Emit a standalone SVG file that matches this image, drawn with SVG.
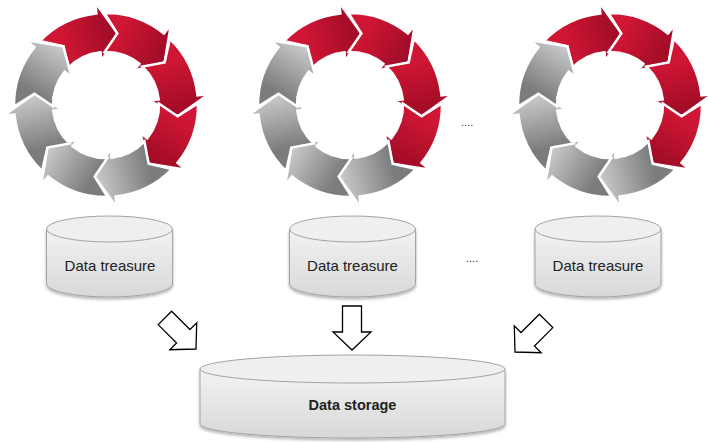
<svg xmlns="http://www.w3.org/2000/svg" xmlns:xlink="http://www.w3.org/1999/xlink" width="708" height="442" viewBox="0 0 708 442">
<style>
.arr{stroke:#ffffff;stroke-width:2.5;stroke-linejoin:miter}
.red{fill:url(#gRed)}
.gray{fill:url(#gGray)}
.cylb{fill:url(#gCyl);stroke:#a3a3a3;stroke-width:1}
.cylt{fill:#efefef;stroke:#a3a3a3;stroke-width:1}
.lbl{font-family:"Liberation Sans",Arial,sans-serif;font-size:15px;fill:#222;text-anchor:middle}
.bold{font-weight:bold;font-size:14.5px}
.dots{font-family:"Liberation Sans",Arial,sans-serif;font-size:11px;fill:#333}
.hollow{fill:#ffffff;stroke:#000;stroke-width:1.3;stroke-linejoin:miter}
</style>
<defs>
<linearGradient id="gRed" gradientUnits="userSpaceOnUse" x1="51" y1="-51" x2="72" y2="0">
<stop offset="0" stop-color="#cf1634"/><stop offset="1" stop-color="#9c0b25"/>
</linearGradient>
<linearGradient id="gGray" gradientUnits="userSpaceOnUse" x1="51" y1="-51" x2="72" y2="0">
<stop offset="0" stop-color="#7b7c7e"/><stop offset="1" stop-color="#cacbcc"/>
</linearGradient>
<linearGradient id="gCyl" x1="0" y1="0" x2="0" y2="1">
<stop offset="0" stop-color="#f3f3f3"/><stop offset="1" stop-color="#d8d8d8"/>
</linearGradient>
<filter id="sh" x="-10%" y="-10%" width="120%" height="130%">
<feDropShadow dx="0" dy="2" stdDeviation="1.5" flood-color="#000" flood-opacity="0.3"/>
</filter>
<path id="seg" d="M52.77,-75.36 A92,92 0 0 1 88.87,-23.81 L99.49,-26.66 L72.5,0 L42.50,-11.39 L51.19,-13.72 A53,53 0 0 0 30.02,-43.68 L51.26,-51.26 Z"/>
<g id="cycle">
<use href="#seg" class="arr red" transform="rotate(-81)"/>
<use href="#seg" class="arr red" transform="rotate(-36)"/>
<use href="#seg" class="arr red" transform="rotate(9)"/>
<use href="#seg" class="arr red" transform="rotate(54)"/>
<use href="#seg" class="arr gray" transform="rotate(99)"/>
<use href="#seg" class="arr gray" transform="rotate(144)"/>
<use href="#seg" class="arr gray" transform="rotate(189)"/>
<use href="#seg" class="arr gray" transform="rotate(234)"/>
</g>
<g id="treasure">
<g filter="url(#sh)">
<path class="cylb" d="M-63,0 L-63,55 A63,13 0 0 0 63,55 L63,0 Z"/>
</g>
<ellipse class="cylt" cx="0" cy="0" rx="63" ry="13"/>
</g>
<path id="harrow" d="M-9.5,-44 L9.5,-44 L9.5,-18 L19,-18 L0,0 L-19,-18 L-9.5,-18 Z"/>
</defs>

<g id="cycle1"><use href="#cycle" transform="translate(106,105)"/></g>
<g id="cycle2"><use href="#cycle" transform="translate(350,105)"/></g>
<g id="cycle3"><use href="#cycle" transform="translate(610,105)"/></g>
<g id="dots1"><text class="dots" x="461" y="126">....</text></g>

<g id="treasure1"><use href="#treasure" transform="translate(109.5,229)"/><text class="lbl" x="110" y="271">Data treasure</text></g>
<g id="treasure2"><use href="#treasure" transform="translate(352.5,229)"/><text class="lbl" x="352.5" y="271">Data treasure</text></g>
<g id="treasure3"><use href="#treasure" transform="translate(598,229)"/><text class="lbl" x="598" y="271">Data treasure</text></g>
<g id="dots2"><text class="dots" x="466" y="262">....</text></g>

<g id="connectors">
<use href="#harrow" class="hollow" transform="translate(196,349) rotate(-45)"/>
<use href="#harrow" class="hollow" transform="translate(352,350)"/>
<use href="#harrow" class="hollow" transform="translate(515,352) rotate(45)"/>
</g>

<g id="storage">
<g filter="url(#sh)">
<path class="cylb" d="M200,369 L200,424 A152.5,14 0 0 0 505,424 L505,369 Z"/>
</g>
<ellipse class="cylt" cx="352.5" cy="369" rx="152.5" ry="14"/>
<text class="lbl bold" x="352.5" y="410">Data storage</text>
</g>
</svg>
